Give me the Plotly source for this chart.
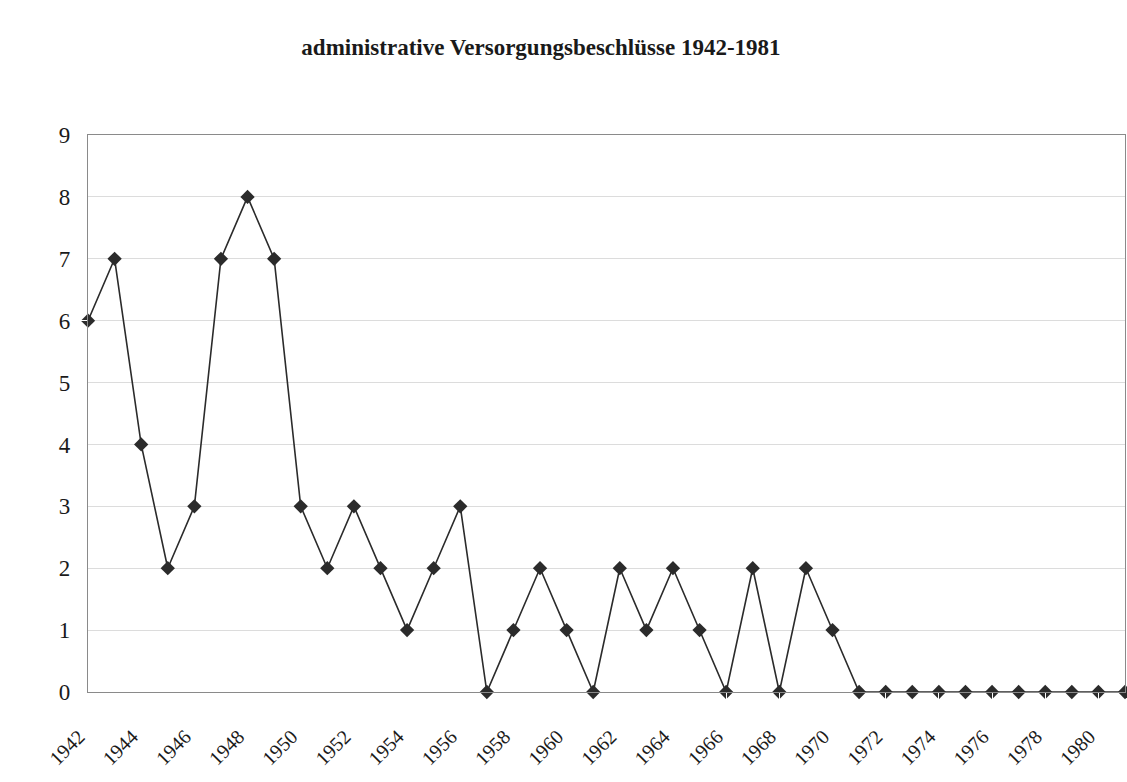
import plotly.graph_objects as go

years = list(range(1942, 1982))
values = [6, 7, 4, 2, 3, 7, 8, 7, 3, 2,
          3, 2, 1, 2, 3, 0, 1, 2, 1, 0,
          2, 1, 2, 1, 0, 2, 0, 2, 1, 0,
          0, 0, 0, 0, 0, 0, 0, 0, 0, 0]
tick_years = list(range(1942, 1982, 2))
title_text = "administrative Versorgungsbeschlüsse 1942-1981"

fig = go.Figure()
fig.add_trace(go.Scatter(
    x=years, y=values, mode="lines+markers",
    line=dict(color="#2b2b2b", width=1.6),
    marker=dict(symbol="diamond", size=11, color="#2b2b2b"),
    cliponaxis=False, showlegend=False,
))

serif = "Liberation Serif, Times New Roman, serif"
fig.update_layout(
    width=1127, height=782,
    paper_bgcolor="white", plot_bgcolor="white",
    margin=dict(l=88, r=2, t=135, b=90),
    title=dict(text="<b>" + title_text + "</b>", x=0.48, xanchor="center",
               y=0.94, yanchor="middle",
               font=dict(family=serif, size=23, color="#1a1a1a")),
    font=dict(family=serif, color="#1a1a1a"),
)
fig.update_xaxes(
    range=[1942, 1981], tickmode="array", tickvals=tick_years,
    ticktext=[str(y) for y in tick_years], tickangle=-45,
    tickfont=dict(family=serif, size=20, color="#1a1a1a"),
    showgrid=False, showline=True, linecolor="#8a8a8a", linewidth=1.2,
    mirror=True, zeroline=False, ticks="outside", ticklen=24, tickcolor="white",
    ticklabelshift=-9,
)
fig.update_yaxes(
    range=[0, 9], dtick=1, tick0=0,
    tickfont=dict(family=serif, size=23, color="#1a1a1a"),
    showgrid=True, gridcolor="#dcdcdc", gridwidth=1,
    showline=True, linecolor="#8a8a8a", linewidth=1.2, mirror=True,
    zeroline=False, ticks="outside", ticklen=12, tickcolor="white",
)
fig.write_html("out.html", config={"displayModeBar": False},
               post_script="document.body.style.margin='0';document.body.style.overflow='hidden';")
